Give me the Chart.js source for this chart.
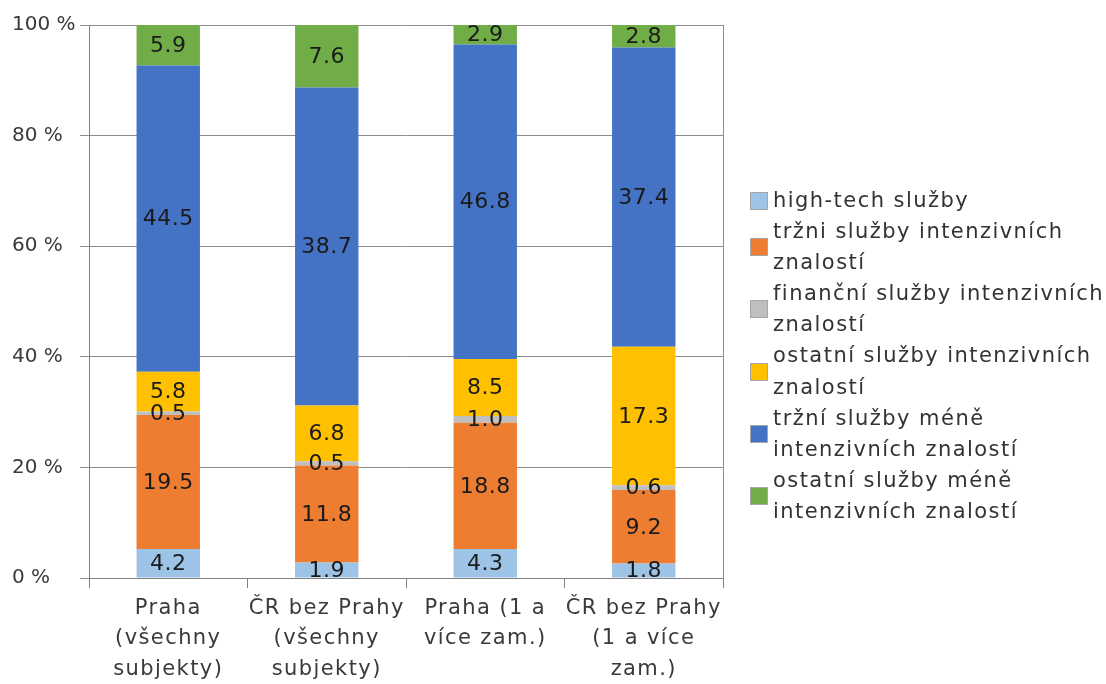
<!DOCTYPE html>
<html>
<head>
<meta charset="utf-8">
<script src="https://cdn.jsdelivr.net/npm/chart.js@4.4.1/dist/chart.umd.min.js"></script>
<style>
  html, body { margin: 0; padding: 0; background: #fff; }
  #wrap { position: relative; width: 1106px; height: 684px; }
  #c { position: absolute; left: 0; top: 0; }
  #legend { position: absolute; left: 750px; top: 185px; font-family: "DejaVu Sans", sans-serif; font-size: 21px; letter-spacing: 1.45px; color: #333; }
  .item { display: flex; align-items: center; }
  .box { width: 18px; height: 18px; box-sizing: border-box; border: 1px solid #a6a6a6; margin-right: 5px; flex: none; }
  .txt { line-height: 31.1px; white-space: pre-line; }
</style>
</head>
<body>
<div id="wrap">
  <canvas id="c" width="1106" height="684"></canvas>
  <div id="legend"></div>
</div>
<script>
const categories = [
  ["Praha", "(všechny", "subjekty)"],
  ["ČR bez Prahy", "(všechny", "subjekty)"],
  ["Praha (1 a", "více zam.)"],
  ["ČR bez Prahy", "(1 a více", "zam.)"]
];
const seriesNames = [
  "high-tech služby",
  "tržni služby intenzivních\nznalostí",
  "finanční služby intenzivních\nznalostí",
  "ostatní služby intenzivních\nznalostí",
  "tržní služby méně\nintenzivních znalostí",
  "ostatní služby méně\nintenzivních znalostí"
];
const highTech        = [4.2, 1.9, 4.3, 1.8];
const trzniIntenz     = [19.5, 11.8, 18.8, 9.2];
const financniIntenz  = [0.5, 0.5, 1.0, 0.6];
const ostatniIntenz   = [5.8, 6.8, 8.5, 17.3];
const trzniMene       = [44.5, 38.7, 46.8, 37.4];
const ostatniMene     = [5.9, 7.6, 2.9, 2.8];
const yTicks = [0, 20, 40, 60, 80, 100];
const colors = ["#9DC3E6", "#ED7D31", "#BFBFBF", "#FFC000", "#4472C4", "#70AD47"];

const raw = [highTech, trzniIntenz, financniIntenz, ostatniIntenz, trzniMene, ostatniMene];
const totals = categories.map((_, i) => raw.reduce((s, arr) => s + arr[i], 0));

const datasets = raw.map((arr, k) => ({
  label: seriesNames[k].replace("\n", " "),
  data: arr.map((v, i) => v / totals[i] * 100),
  rawValues: arr,
  backgroundColor: colors[k],
  borderWidth: 0,
  categoryPercentage: 1.0,
  barPercentage: 0.4
}));

const FONT = "DejaVu Sans";

// category scale whose tick labels are drawn with letter spacing
class SpacedCategoryScale extends Chart.CategoryScale {
  drawLabels(area) {
    const c = this.ctx;
    const prev = c.letterSpacing;
    c.letterSpacing = "1.4px";
    super.drawLabels(area);
    c.letterSpacing = prev;
  }
}
SpacedCategoryScale.id = "spacedCategory";
SpacedCategoryScale.defaults = Chart.CategoryScale.defaults;
Chart.register(SpacedCategoryScale);

const valueLabels = {
  id: "valueLabels",
  afterDatasetsDraw(chart) {
    const ctx = chart.ctx;
    ctx.save();
    ctx.font = "22px '" + FONT + "'";
    ctx.letterSpacing = "0.5px";
    ctx.fillStyle = "#1a1a1a";
    ctx.textAlign = "center";
    ctx.textBaseline = "middle";
    chart.data.datasets.forEach((ds, di) => {
      const meta = chart.getDatasetMeta(di);
      meta.data.forEach((bar, i) => {
        const y = (bar.y + bar.base) / 2;
        ctx.fillText(ds.rawValues[i].toFixed(1), bar.x, y + 1);
      });
    });
    ctx.restore();
  }
};

new Chart(document.getElementById("c"), {
  type: "bar",
  data: { labels: categories, datasets },
  options: {
    responsive: false,
    animation: false,
    layout: { padding: { left: 12, top: 25, right: 382, bottom: 0 } },
    plugins: { legend: { display: false }, tooltip: { enabled: false } },
    scales: {
      x: {
        type: "spacedCategory",
        stacked: true,
        afterFit(scale) { scale.height = 106; },
        grid: { display: true, drawOnChartArea: false, drawTicks: true, tickLength: 10, color: "#7f7f7f", offset: true },
        border: { display: true, color: "#7f7f7f", width: 1 },
        ticks: { color: "#3a3a3a", font: { family: FONT, size: 21, lineHeight: 1.43 }, padding: 6, maxRotation: 0, autoSkip: false }
      },
      y: {
        stacked: true,
        min: 0, max: 100,
        afterBuildTicks(scale) { scale.ticks = yTicks.map(v => ({ value: v })); },
        afterFit(scale) { scale.width = 77; },
        grid: { color: "#8c8c8c", tickLength: 9, drawTicks: true },
        border: { display: true, color: "#7f7f7f", width: 1 },
        ticks: { color: "#3a3a3a", crossAlign: "far", padding: 5, font: { family: FONT, size: 20 }, callback: v => v + " %" }
      },
      y2: {
        position: "right",
        min: 0, max: 100,
        grid: { drawOnChartArea: false, drawTicks: false },
        border: { display: true, color: "#8c8c8c", width: 1 },
        ticks: { display: false },
        afterFit(scale) { scale.width = 1; }
      }
    }
  },
  plugins: [valueLabels]
});

const legend = document.getElementById("legend");
seriesNames.forEach((name, k) => {
  const item = document.createElement("div");
  item.className = "item";
  const box = document.createElement("span");
  box.className = "box";
  box.style.background = colors[k];
  const txt = document.createElement("span");
  txt.className = "txt";
  txt.textContent = name;
  item.appendChild(box);
  item.appendChild(txt);
  legend.appendChild(item);
});
</script>
</body>
</html>
